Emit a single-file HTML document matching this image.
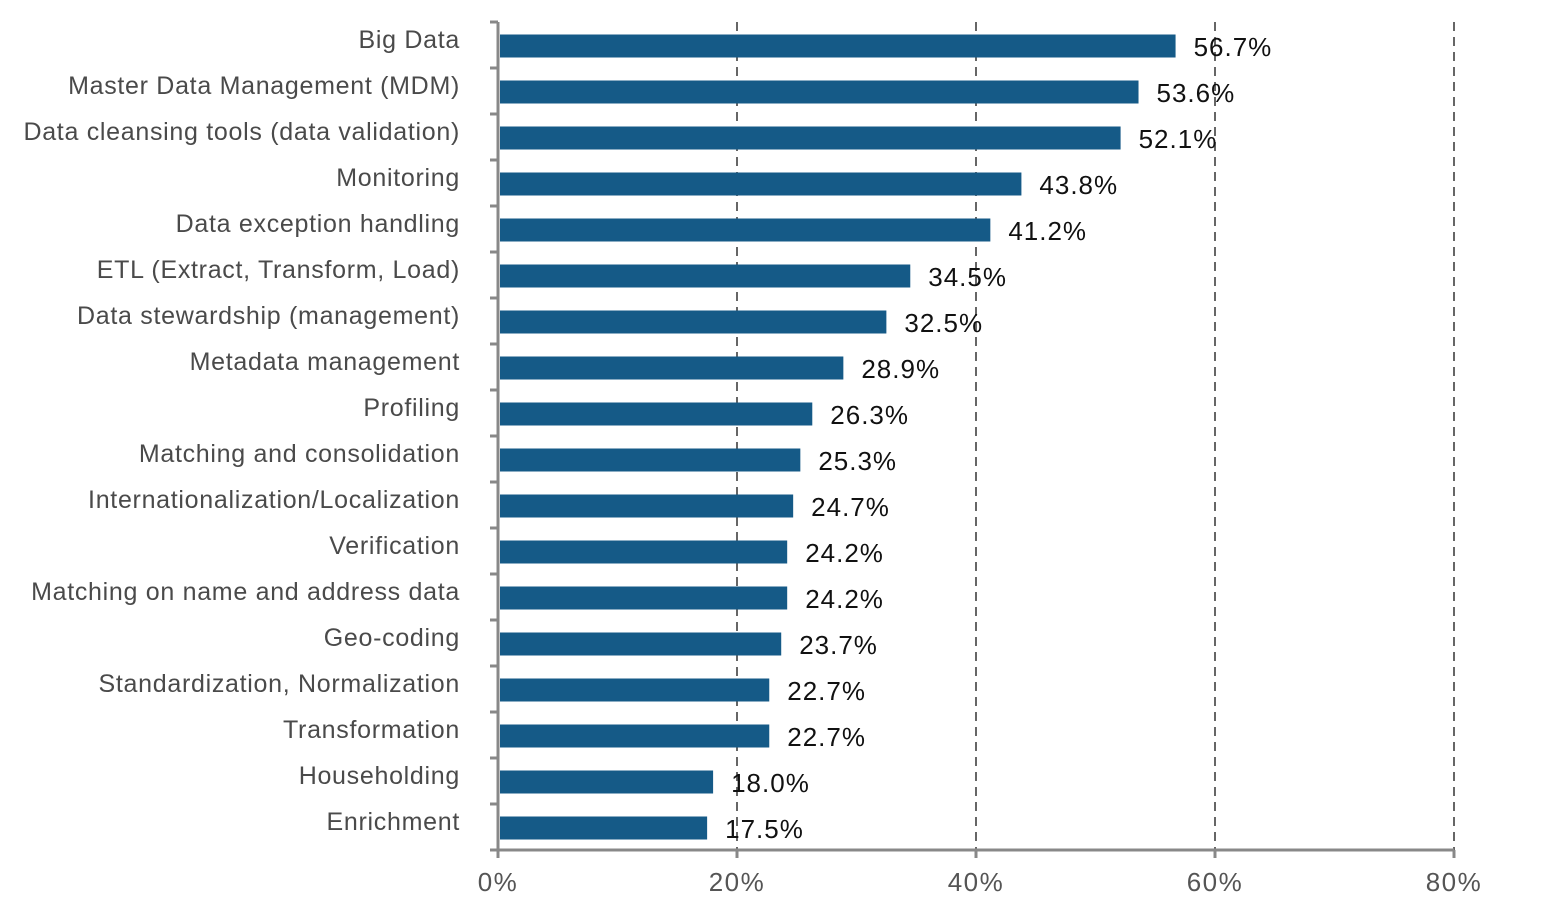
<!DOCTYPE html>
<html><head><meta charset="utf-8"><style>
body{margin:0;background:#fff;}
svg{display:block;font-family:"Liberation Sans",sans-serif;}
</style></head><body>
<svg id="chart" width="1560" height="917" viewBox="0 0 1560 917"></svg>
<script>
const categories=["Big Data","Master Data Management (MDM)","Data cleansing tools (data validation)","Monitoring","Data exception handling","ETL (Extract, Transform, Load)","Data stewardship (management)","Metadata management","Profiling","Matching and consolidation","Internationalization/Localization","Verification","Matching on name and address data","Geo-coding","Standardization, Normalization","Transformation","Householding","Enrichment"];
const values=[56.7,53.6,52.1,43.8,41.2,34.5,32.5,28.9,26.3,25.3,24.7,24.2,24.2,23.7,22.7,22.7,18.0,17.5];
const ticks=[0,20,40,60,80];
const svg=document.getElementById('chart');
const NS='http://www.w3.org/2000/svg';
const x0=498,pxPer=11.95,top0=22,band=46,bh=23;
const xs=v=>x0+v*pxPer;
function mk(t,a){const e=document.createElementNS(NS,t);for(const k in a)e.setAttribute(k,a[k]);svg.appendChild(e);return e;}
const axisY=top0+band*categories.length;
ticks.forEach((t,i)=>{
 if(i>0){const g=mk('line',{x1:xs(t),x2:xs(t),y1:top0,y2:axisY,stroke:'#666','stroke-width':2,'stroke-dasharray':'9,6'});
 
 }
 const tk=mk('line',{x1:xs(t),x2:xs(t),y1:axisY,y2:axisY+8,stroke:'#888','stroke-width':3});
 
 
 const tl=mk('text',{x:xs(t),y:axisY+41,'text-anchor':'middle','font-size':26,'letter-spacing':1.5,fill:'#555'});
 tl.textContent=t+'%';
 
 
});
categories.forEach((c,i)=>{
 const cy=top0+band*i+band/2+1;
 const r=mk('rect',{x:x0+2,y:cy-bh/2,width:xs(values[i])-x0-2,height:bh,fill:'#155a87'});
 
 
 const l=mk('text',{x:460,y:cy+2,'text-anchor':'end','font-size':25,'letter-spacing':0.7,fill:'#4a4a4a'});
 l.textContent=c;
 
 
 const v=mk('text',{x:xs(values[i])+18,y:cy+10,'font-size':26,'letter-spacing':1,fill:'#111'});
 v.textContent=values[i].toFixed(1)+'%';
 
 
});
for(let i=0;i<=categories.length;i++){
 const t=mk('line',{x1:x0-8,x2:x0,y1:top0+band*i,y2:top0+band*i,stroke:'#888','stroke-width':3});
 
 
}
const ya=mk('line',{x1:x0,x2:x0,y1:top0,y2:axisY,stroke:'#888','stroke-width':3});


const xa=mk('line',{x1:x0-8,x2:xs(80),y1:axisY,y2:axisY,stroke:'#888','stroke-width':3});


</script>
</body></html>
